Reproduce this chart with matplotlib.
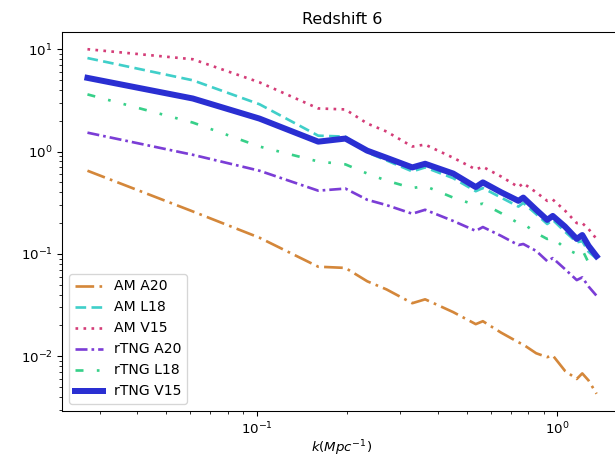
"""
Power spectrum comparison at redshift 6
"""
import matplotlib
matplotlib.use('Agg')
import matplotlib.pyplot as plt

# wavenumbers (Mpc^-1)
k = [0.0273, 0.0612, 0.102, 0.160, 0.197, 0.233, 0.27, 0.329, 0.363, 0.45,
     0.535, 0.565, 0.65, 0.742, 0.770, 0.85, 0.925, 0.965, 1.06, 1.16,
     1.21, 1.27, 1.35]

am_a20 = [0.65, 0.26, 0.144, 0.075, 0.073, 0.054, 0.045, 0.033, 0.036, 0.027,
          0.0206, 0.022, 0.017, 0.0137, 0.013, 0.0107, 0.0098, 0.0102, 0.0072,
          0.006, 0.0068, 0.0058, 0.0043]
am_l18 = [8.2, 4.97, 2.9, 1.43, 1.40, 0.98, 0.82, 0.64, 0.70, 0.55,
          0.41, 0.44, 0.355, 0.29, 0.315, 0.245, 0.196, 0.215, 0.165,
          0.13, 0.133, 0.105, 0.09]
am_v15 = [10.0, 7.98, 4.75, 2.64, 2.58, 1.88, 1.57, 1.12, 1.17, 0.87,
          0.67, 0.71, 0.57, 0.45, 0.49, 0.40, 0.33, 0.34, 0.265,
          0.20, 0.20, 0.175, 0.14]
rtng_a20 = [1.53, 0.93, 0.65, 0.415, 0.435, 0.338, 0.30, 0.247, 0.27, 0.21,
            0.168, 0.183, 0.15, 0.122, 0.125, 0.107, 0.085, 0.091, 0.071,
            0.0555, 0.059, 0.048, 0.039]
rtng_l18 = [3.62, 1.92, 1.12, 0.80, 0.75, 0.61, 0.52, 0.44, 0.46, 0.355,
            0.30, 0.31, 0.25, 0.20, 0.198, 0.16, 0.14, 0.145, 0.113,
            0.10, 0.11, 0.082, 0.09]
rtng_v15 = [5.25, 3.3, 2.1, 1.25, 1.34, 1.02, 0.87, 0.70, 0.76, 0.61,
            0.45, 0.50, 0.40, 0.33, 0.355, 0.27, 0.215, 0.235, 0.185,
            0.14, 0.153, 0.12, 0.095]

fig = plt.figure(figsize=(615 / 96, 460 / 96), dpi=96)
ax = fig.add_axes([62 / 615, 49 / 460, 560 / 615, 379 / 460])

ax.plot(k, am_a20, color='#d4873a', lw=2, ls=(0, (7, 2, 1, 2)), label='AM A20')
ax.plot(k, am_l18, color='#40cfc9', lw=2, ls=(0, (4, 2)), label='AM L18')
ax.plot(k, am_v15, color='#d43d78', lw=2, ls=(0, (1, 2)), label='AM V15')
ax.plot(k, rtng_a20, color='#7b3dd6', lw=2, ls=(0, (4.5, 1.5, 1, 1.5)),
        label='rTNG A20')
ax.plot(k, rtng_l18, color='#37d089', lw=2, ls=(0, (3, 5, 1, 5, 1, 5)),
        label='rTNG L18')
ax.plot(k, rtng_v15, color='#2a2fd2', lw=4.5, label='rTNG V15')

ax.set_xscale('log')
ax.set_yscale('log')
# the picture is cut at the right, so no right spine shows
ax.spines['right'].set_visible(False)
ax.set_xlabel(r'$k (Mpc^{-1})$', labelpad=1)
ax.set_title('Redshift 6')
ax.legend(loc='lower left', fontsize=10.5)

fig.savefig('out.png', dpi=96)
